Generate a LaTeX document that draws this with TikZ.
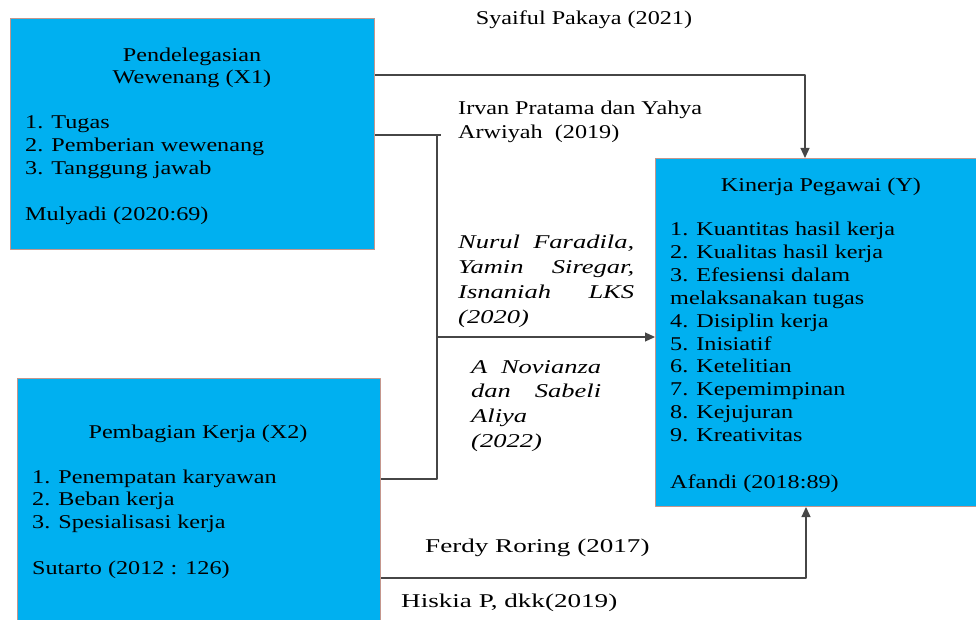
\documentclass[tikz,border=0pt]{standalone}
\usepackage{fontspec}
\setmainfont{Liberation Serif}[FakeStretch=1.24]
\newfontfamily\widefont{Liberation Serif}[FakeStretch=1.39]
\newfontfamily\refitalic{Liberation Serif Italic}[FakeStretch=1.36]
\usetikzlibrary{arrows.meta, calc}

\definecolor{boxblue}{HTML}{00B0F0}
\definecolor{boxline}{RGB}{196,150,140}
\definecolor{linegray}{RGB}{70,70,70}

\begin{document}
\begin{tikzpicture}[x=1pt, y=-1pt, line join=round,
		box/.style={draw=boxline, fill=boxblue, line width=1pt, inner sep=0pt, anchor=north west},
		txt/.style={font=\fontsize{19.5}{22.7}\selectfont, inner sep=0pt, anchor=base west},
		wide/.style={txt, font=\fontsize{19.5}{22.7}\selectfont\widefont},
		ref/.style={txt, font=\fontsize{19.5}{22.7}\selectfont\refitalic},
		conn/.style={draw=linegray, line width=1.2pt},
		arr/.style={conn, -{Triangle[length=10pt, width=9pt]}}]
		
		% Frame of the figure
		\useasboundingbox (0,0) rectangle (976,620);
		
		% 1. The three variable boxes
		\node[box, minimum width=364pt, minimum height=231pt] (x1) at (10,18) {};
		\node[box, minimum width=363pt, minimum height=252pt] (x2) at (17,378) {};
		\node[box, minimum width=330pt, minimum height=348pt] (kinerja) at (655,158) {};
		
		% Box X1
		\foreach \entry [count=\i from 0] in {Pendelegasian, Wewenang (X1)}
			\node[txt, anchor=base] (x1title\i) at (192,62+21.5*\i) {\entry};
		\foreach \entry [count=\i from 0] in {1. Tugas, 2. Pemberian wewenang, 3. Tanggung jawab}
			\node[txt] (x1item\i) at (25,129+22.8*\i) {\entry};
		\node[txt] (x1src) at (25,221) {Mulyadi (2020:69)};
		
		% Box X2
		\node[txt, anchor=base] (x2title) at (198,438) {Pembagian Kerja (X2)};
		\foreach \entry [count=\i from 0] in {1. Penempatan karyawan, 2. Beban kerja, 3. Spesialisasi kerja}
			\node[txt] (x2item\i) at (32,483+22.7*\i) {\entry};
		\node[txt] (x2src) at (32,574) {Sutarto (2012 : 126)};
		
		% Box Y
		\node[txt, anchor=base] (ytitle) at (821,192) {Kinerja Pegawai (Y)};
		\foreach \entry [count=\i from 0] in {1. Kuantitas hasil kerja, 2. Kualitas hasil kerja,
				3. Efesiensi dalam, melaksanakan tugas, 4. Disiplin kerja, 5. Inisiatif,
				6. Ketelitian, 7. Kepemimpinan, 8. Kejujuran, 9. Kreativitas}
			\node[txt] (yitem\i) at (670,236+22.8*\i) {\entry};
		\node[txt] (ysrc) at (670,488) {Afandi (2018:89)};
		
		% 2. Connectors
		\coordinate (jTop) at (805,75);
		\coordinate (tick) at (441,135);
		\coordinate (jMid) at (437,337);
		\coordinate (jLow) at (437,479);
		\coordinate (jBot) at (806,578);
		
		\draw[arr] (x1.east |- jTop) -| (kinerja.north -| jTop);
		\draw[conn] (x1.east |- tick) -- (tick);
		\draw[conn] (x2.east |- jLow) -- (jLow) -- (jMid |- tick);
		\draw[arr] (jMid) -- (kinerja.west |- jMid);
		\draw[arr] (x2.east |- jBot) -| (kinerja.south -| jBot);
		
		% 3. Sources on the lines
		\node[txt, anchor=base] (pakaya) at (584,25) {Syaiful Pakaya (2021)};
		\foreach \entry [count=\i from 0] in {Irvan Pratama dan Yahya, Arwiyah~ (2019)}
			\node[txt] (pratama\i) at (458,115+24*\i) {\entry};
		\foreach \entry [count=\i from 0] in {{\makebox[176pt][s]{Nurul Faradila,}},
				{\makebox[176pt][s]{Yamin Siregar,}}, {\makebox[176pt][s]{Isnaniah LKS}}, (2020)}
			\node[ref] (faradila\i) at (458,248+25*\i) {\entry};
		\foreach \entry [count=\i from 0] in {{\makebox[130pt][s]{A Novianza}},
				{\makebox[130pt][s]{dan Sabeli}}, Aliya, (2022)}
			\node[ref] (novianza\i) at (471,373+24.7*\i) {\entry};
		\node[wide] (roring) at (425,552) {Ferdy Roring (2017)};
		\node[wide] (hiskia) at (401,607) {Hiskia P, dkk(2019)};
		
	\end{tikzpicture}
\end{document}
